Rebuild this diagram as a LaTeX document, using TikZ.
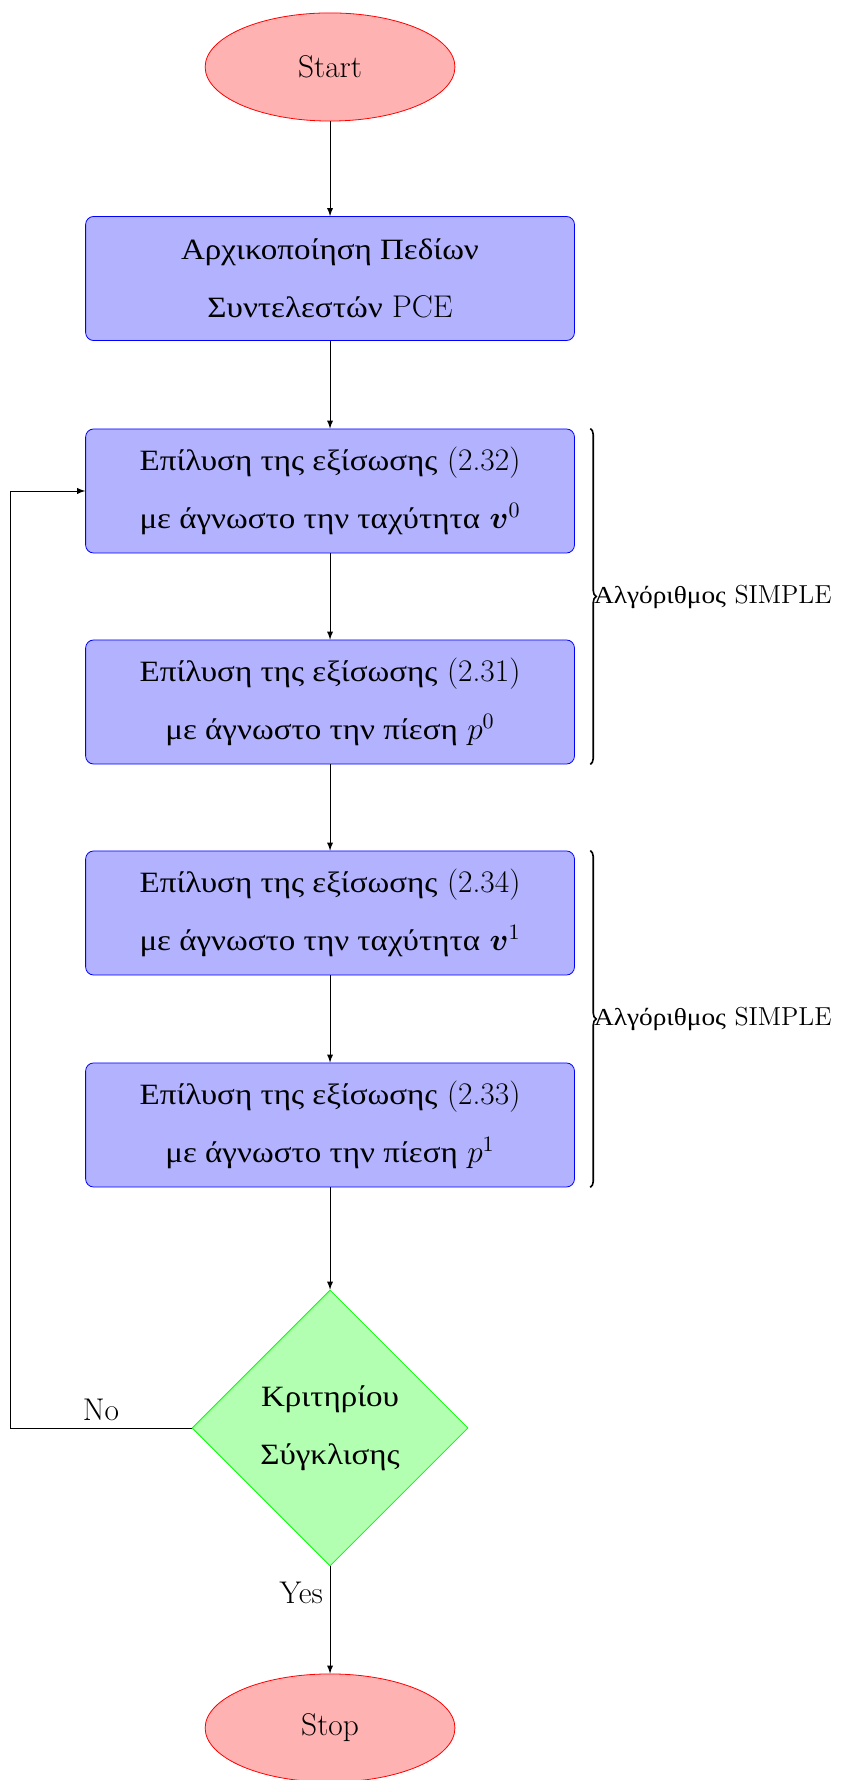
\documentclass[tikz,border=0pt]{standalone}
\usepackage{fix-cm}
\usepackage{amsmath}
\usepackage{fontspec}
\newfontfamily\gr{Liberation Serif}[Scale=MatchLowercase, FakeStretch=1.12]
\usetikzlibrary{shapes.geometric,decorations.pathreplacing}
\tikzset{
	startstop/.style={ellipse, minimum width=4.39cm, minimum height=1.90cm, inner sep=0pt, draw=red, fill=red!30},
	process/.style={rectangle, rounded corners, minimum width=8.59cm, minimum height=2.18cm, align=center, draw=blue, fill=blue!30},
	decision/.style={diamond, aspect=1, minimum width=4.85cm, minimum height=4.85cm, inner sep=0pt, align=center, draw=green, fill=green!30},
	arrow/.style={-latex},
	simplebrace/.style={decorate, decoration={brace, amplitude=3pt}, line width=0.8pt},
	bracelabel/.style={right, inner sep=1.5pt, font=\fontsize{13}{15}\selectfont}
}
\begin{document}
\begin{tikzpicture}[font=\fontsize{15.7}{29}\selectfont]
		\useasboundingbox (-5.80,1.177) rectangle (9.12,-30.103);
		\pgfmathsetmacro{\bx}{0.27};
		% main column
		\node[startstop] (start) at (0,0) {Start};
		\node[process] (init) at (0,-3.717) {{\gr Αρχικοποίηση Πεδίων}\\{\gr Συντελεστών} PCE};
		\node[process] (vel0) at (0,-7.451) {{\gr Επίλυση της εξίσωσης} (2.32)\\{\gr με άγνωστο την ταχύτητα} $\boldsymbol{v}^0$};
		\node[process] (pre0) at (0,-11.159) {{\gr Επίλυση της εξίσωσης} (2.31)\\{\gr με άγνωστο την πίεση} $p^0$};
		\node[process] (vel1) at (0,-14.867) {{\gr Επίλυση της εξίσωσης} (2.34)\\{\gr με άγνωστο την ταχύτητα} $\boldsymbol{v}^1$};
		\node[process] (pre1) at (0,-18.592) {{\gr Επίλυση της εξίσωσης} (2.33)\\{\gr με άγνωστο την πίεση} $p^1$};
		\node[decision] (conv) at (0,-23.917) {{\gr Κριτηρίου}\\{\gr Σύγκλισης}};
		\node[startstop] (stop) at (0,-29.189) {Stop};
		\coordinate (back) at (-5.623,0);
		% arrows
		\draw[arrow] (start) -- (init);
		\draw[arrow] (init) -- (vel0);
		\draw[arrow] (vel0) -- (pre0);
		\draw[arrow] (pre0) -- (vel1);
		\draw[arrow] (vel1) -- (pre1);
		\draw[arrow] (pre1) -- (conv);
		\draw[arrow] (conv) -- node[near start,left]{Yes} (stop);
		\draw[arrow] (conv.west) -- node[above]{No} (conv.west -| back) |- (vel0.west);
		% braces
		\draw[simplebrace] ([xshift=\bx cm]vel0.north east) -- node[bracelabel]{{\gr Αλγόριθμος} SIMPLE} ([xshift=\bx cm]pre0.south east);
		\draw[simplebrace] ([xshift=\bx cm]vel1.north east) -- node[bracelabel]{{\gr Αλγόριθμος} SIMPLE} ([xshift=\bx cm]pre1.south east);
	\end{tikzpicture}
\end{document}
